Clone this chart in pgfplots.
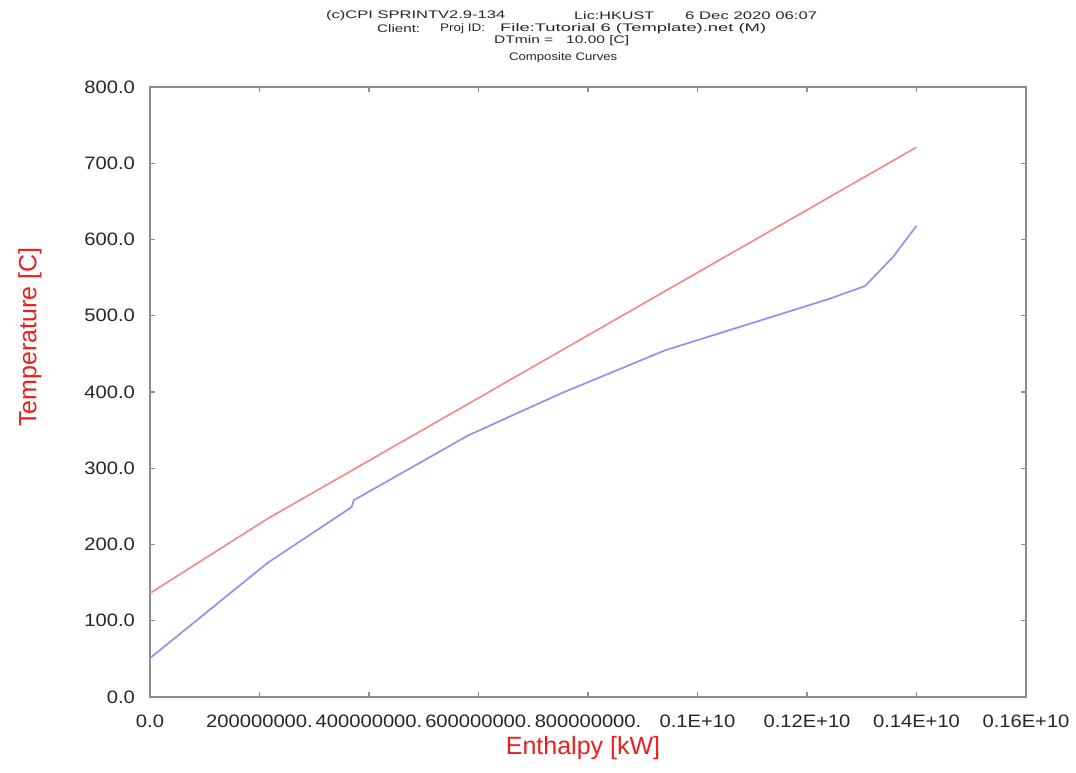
\documentclass[border=0pt]{standalone}
\usepackage{pgfplots}
\pgfplotsset{compat=1.18}
\usepackage{graphicx}
\usepackage{fontspec}
\setmainfont{Liberation Sans}
\definecolor{hotc}{RGB}{242,140,140}
\definecolor{coldc}{RGB}{145,145,240}
\definecolor{labred}{RGB}{235,30,30}
\definecolor{framec}{RGB}{140,140,140}
\newcommand\hd[2]{\resizebox{#1pt}{\height}{\fontsize{11}{12}\selectfont #2}}
\begin{document}
\begin{tikzpicture}[x=1pt,y=1pt]
\path[use as bounding box] (0,0) rectangle (1076,772);
\begin{axis}[
  at={(150pt,75pt)}, anchor=south west,
  scale only axis, width=876pt, height=610pt,
  xmin=0, xmax=1.6e9, ymin=0, ymax=800,
  scaled x ticks=false, scaled y ticks=false,
  xtick={0,2e8,4e8,6e8,8e8,1e9,1.2e9,1.4e9,1.6e9},
  xticklabels={0.0,200000000.,400000000.,600000000.,800000000.,0.1E+10,0.12E+10,0.14E+10,0.16E+10},
  ytick={0,100,200,300,400,500,600,700,800},
  yticklabels={0.0,100.0,200.0,300.0,400.0,500.0,600.0,700.0,800.0},
  tick align=inside, major tick length=5pt,
  axis line style={framec, line width=1.3pt},
  tick style={framec, line width=1.3pt},
  xticklabel style={font=\fontsize{18}{20}\selectfont, text=black!85, xscale=1.12, yshift=-14pt},
  yticklabel style={font=\fontsize{18}{20}\selectfont, text=black!85, xscale=1.12, xshift=-10pt},
  clip=false,
]
\addplot[hotc, line width=1.7pt] coordinates {
  (0,136) (2.15e8,234) (2.2e8,236) (1.40e9,721)
};
\addplot[coldc, line width=1.7pt] coordinates {
  (0,51) (2.15e8,176) (3.45e8,238) (3.68e8,249) (3.70e8,253) (3.72e8,258)
  (5.81e8,343) (7.5e8,398) (9.42e8,455) (1.24e9,522) (1.306e9,539)
  (1.357e9,577) (1.40e9,618)
};
\end{axis}
% header
\begin{scope}[every node/.style={text=black!85, anchor=west, inner sep=0pt}]
\node at (326,756) {\hd{179}{(c)CPI SPRINTV2.9-134}};
\node at (574,756) {\hd{80}{Lic:HKUST}};
\node at (685,756) {\hd{132}{6 Dec 2020 06:07}};
\node at (377,743) {\hd{43}{Client:}};
\node at (440,743) {\hd{45}{Proj ID:}};
\node at (500,743) {\hd{266}{File:Tutorial 6 (Template).net (M)}};
\node at (494,731) {\hd{135}{DTmin =\ \ \ 10.00 [C]}};
\node at (509,714) {\hd{108}{Composite Curves}};
\end{scope}
\node[font=\fontsize{25}{28}\selectfont, text=labred, inner sep=0pt] at (583,24) {Enthalpy [kW]};
\node[font=\fontsize{25}{28}\selectfont, text=labred, rotate=90, inner sep=0pt] at (30,435) {Temperature [C]};
\end{tikzpicture}
\end{document}
